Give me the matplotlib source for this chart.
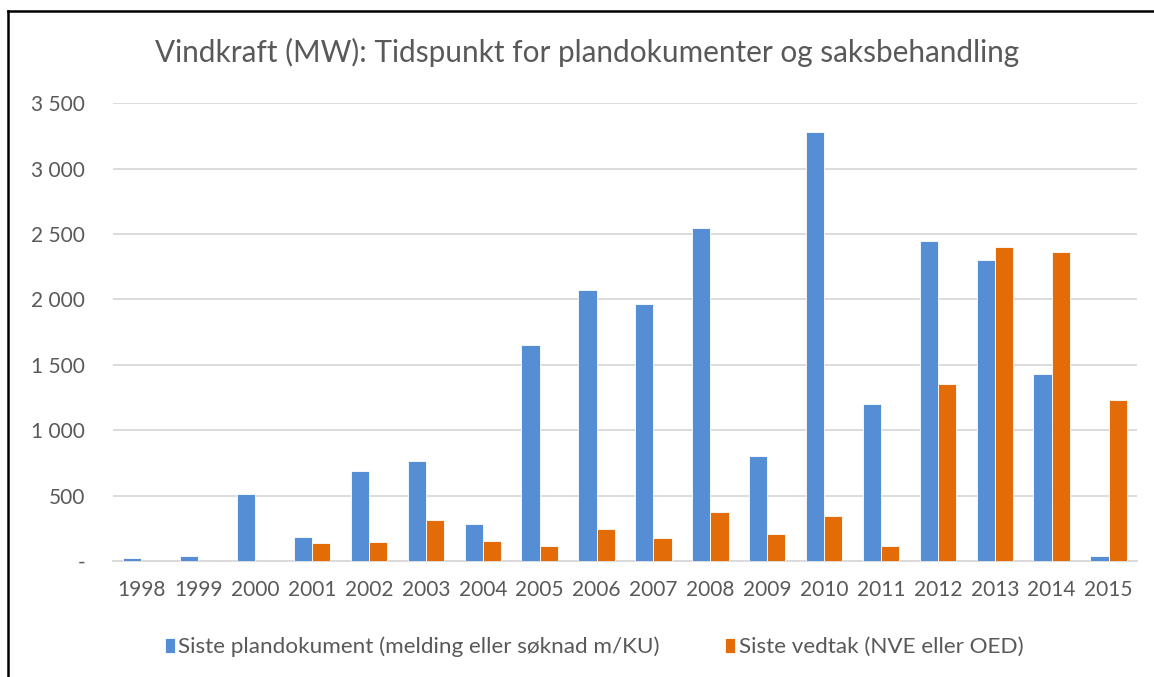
import matplotlib.pyplot as plt
from matplotlib.lines import Line2D
import numpy as np

plt.rcParams['font.family'] = ['Lato', 'DejaVu Sans']

years = ["1998", "1999", "2000", "2001", "2002", "2003", "2004", "2005", "2006",
         "2007", "2008", "2009", "2010", "2011", "2012", "2013", "2014", "2015"]
plandokument = [20, 40, 515, 180, 686, 765, 280, 1651, 2069,
                1962, 2543, 800, 3277, 1198, 2444, 2304, 1430, 36]
vedtak = [0, 0, 0, 135, 148, 311, 153, 112, 247,
          173, 375, 206, 344, 117, 1353, 2400, 2360, 1233]
ytick_vals = [0, 500, 1000, 1500, 2000, 2500, 3000, 3500]
ytick_labels = ["-", "500", "1 000", "1 500", "2 000", "2 500", "3 000", "3 500"]

blue = "#558ED5"
orange = "#E36C09"
grey = "#595959"

fig = plt.figure(figsize=(11.54, 6.77), dpi=100)
ax = fig.add_axes([0.0979, 0.1713, 0.8874, 0.6761])

x = np.arange(len(years))
w = 0.32
ax.bar(x - w / 2, plandokument, w, color=blue, edgecolor="white", linewidth=0.6,
       label="Siste plandokument (melding eller søknad m/KU)", zorder=3)
ax.bar(x + w / 2, vedtak, w, color=orange, edgecolor="white", linewidth=0.6,
       label="Siste vedtak (NVE eller OED)", zorder=3)

ax.set_xlim(-0.5, len(years) - 0.5)
ax.set_ylim(0, 3500)
ax.set_yticks(ytick_vals)
ax.set_yticklabels(ytick_labels)
ax.set_xticks(x)
ax.set_xticklabels(years)
ax.tick_params(axis="y", length=0, pad=20, labelsize=15, labelcolor=grey)
ax.tick_params(axis="x", length=0, pad=14, labelsize=15, labelcolor=grey)
ax.grid(axis="y", color="#D9D9D9", linewidth=1.3, zorder=0)
for s in ["top", "right", "left"]:
    ax.spines[s].set_visible(False)
ax.spines["bottom"].set_color("#D9D9D9")
ax.spines["bottom"].set_linewidth(1.3)

fig.text(587 / 1154, 1 - 52 / 677, "Vindkraft (MW): Tidspunkt for plandokumenter og saksbehandling",
         ha="center", va="center", fontsize=21.4, color=grey)

leg = fig.legend(loc="center", bbox_to_anchor=(594 / 1154, 1 - 647 / 677), ncol=2,
                 frameon=False, fontsize=16.2, handlelength=0.45, handleheight=0.7,
                 handletextpad=0.15, columnspacing=2.9, labelcolor=grey)

# svart ramme oppe og til venstre (fra skjermbildet)
fig.add_artist(Line2D([8 / 1154, 1], [1 - 11 / 677, 1 - 11 / 677], color="black", linewidth=1.8))
fig.add_artist(Line2D([8 / 1154, 8 / 1154], [0, 1 - 11 / 677], color="black", linewidth=1.8))

fig.savefig("out.png", dpi=100)
